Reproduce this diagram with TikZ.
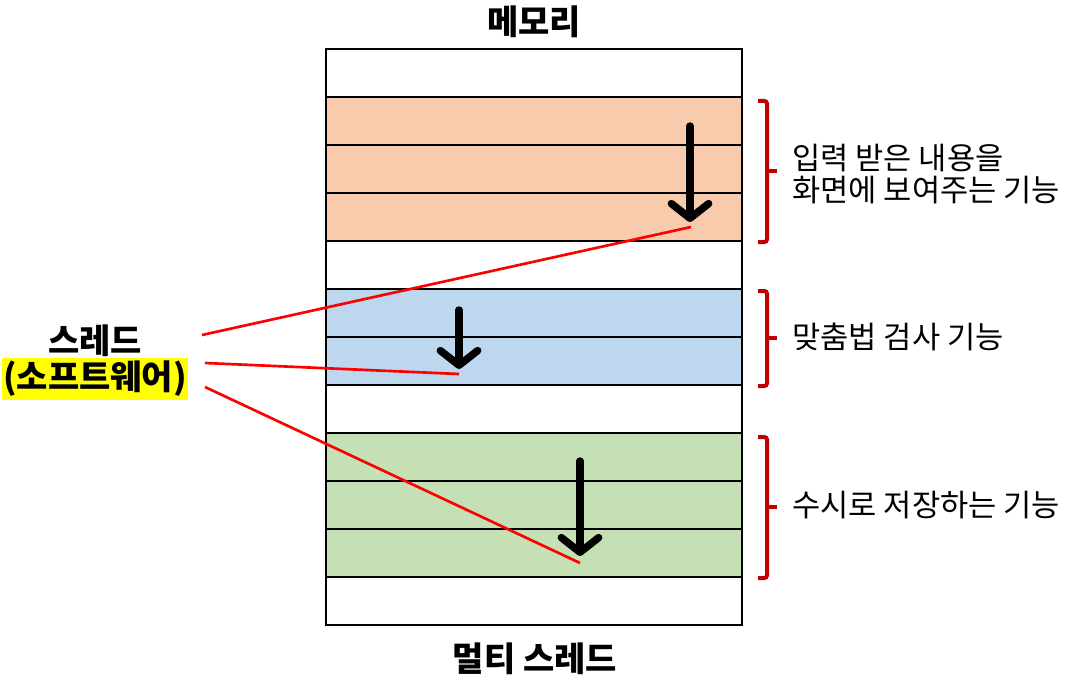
\documentclass[tikz,border=0pt]{standalone}
\usepackage{fontspec}
\setmainfont{Noto Sans CJK KR}
\usetikzlibrary{arrows.meta}
\definecolor{orfill}{HTML}{F8CBAD}
\definecolor{blfill}{HTML}{BDD7EE}
\definecolor{grfill}{HTML}{C5E0B4}
\definecolor{bracered}{HTML}{C00000}
\definecolor{hl}{HTML}{FFFF00}
\begin{document}
\begin{tikzpicture}[x=0.75pt,y=-0.75pt,
  rowline/.style={draw=black,line width=1.1pt},
  brace/.style={draw=bracered,line width=3pt,rounded corners=2pt},
  redline/.style={draw=red,line width=2pt},
  flow/.style={line width=5.6pt,line cap=round,line join=round,
     -{Straight Barb[length=11pt,width=28pt,round]}},
  lbl/.style={font=\fontsize{23pt}{24pt}\selectfont,inner sep=0pt,anchor=west,align=left},
  ttl/.style={font=\fontsize{25.5pt}{28pt}\selectfont\bfseries,inner sep=0pt}]
\useasboundingbox (0,0) rectangle (1073,684);
% memory bands
\fill[orfill] (326,97) rectangle (742,241);
\fill[blfill] (326,289) rectangle (742,385);
\fill[grfill] (326,433) rectangle (742,577);
\foreach \y in {97,145,...,577} \draw[rowline] (326,\y) -- (742,\y);
\draw[rowline] (326,49) rectangle (742,625);
% flow arrows
\coordinate (a1s) at (690,126); \coordinate (a1e) at (690,222);
\coordinate (a2s) at (459,310); \coordinate (a2e) at (459,369);
\coordinate (a3s) at (580,461); \coordinate (a3e) at (580,556);
\draw[flow] (a1s) -- (a1e);
\draw[flow] (a2s) -- (a2e);
\draw[flow] (a3s) -- (a3e);
% braces
\draw[brace] (758,101) -- (767,101) -- (767,242) -- (758,242);
\draw[brace] (767,171) -- (777,171);
\draw[brace] (758,291) -- (767,291) -- (767,386) -- (758,386);
\draw[brace] (767,338) -- (777,338);
\draw[brace] (758,437) -- (767,437) -- (767,578) -- (758,578);
\draw[brace] (767,507) -- (777,507);
% labels
\node[lbl] (t1) at (792,174) {입력 받은 내용을\\화면에 보여주는 기능};
\node[lbl] (t2) at (792,337) {맞춤법 검사 기능};
\node[lbl] (t3) at (792,505) {수시로 저장하는 기능};
\node[ttl] (mem) at (534,22) {메모리};
\node[ttl] (mt) at (535,659) {멀티 스레드};
\node[ttl] (th) at (95,341) {스레드};
\node[ttl,fill=hl,inner xsep=1pt,inner ysep=2pt] (sw) at (95,379) {(소프트웨어)};
% red connectors
\coordinate (r1s) at (202,335); \coordinate (r1e) at (691,227);
\coordinate (r2s) at (205,363); \coordinate (r2e) at (459,374);
\coordinate (r3s) at (205,387); \coordinate (r3e) at (580,563);
\draw[redline] (r1s) -- (r1e);
\draw[redline] (r2s) -- (r2e);
\draw[redline] (r3s) -- (r3e);
\end{tikzpicture}
\end{document}
